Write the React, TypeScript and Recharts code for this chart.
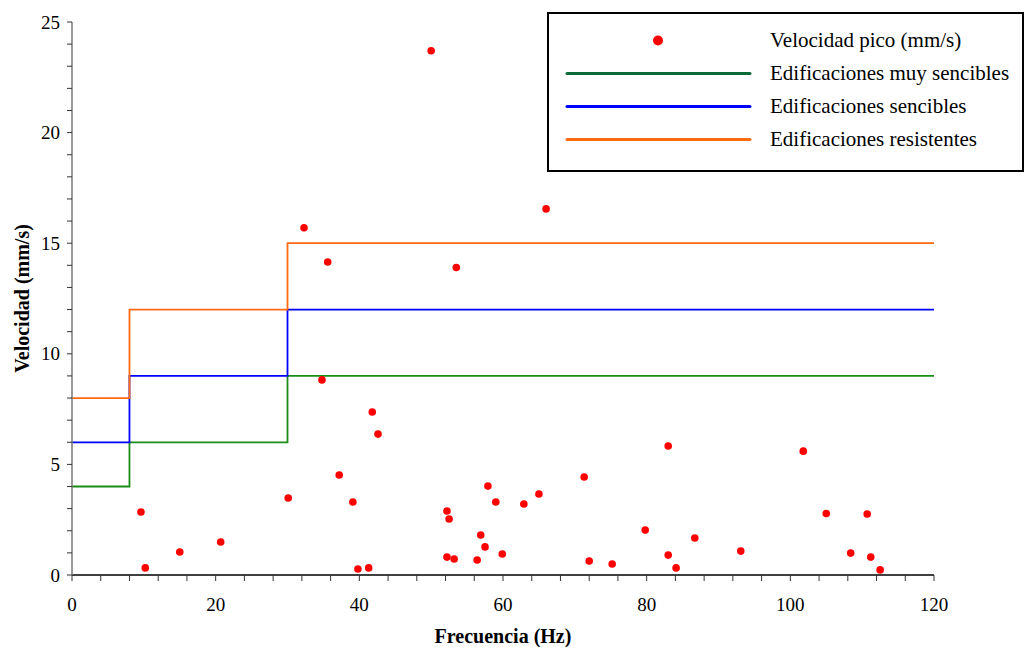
import { ComposedChart, Scatter, Line, XAxis, YAxis, Legend } from "recharts";

// peak velocity readings: frequency (Hz) and velocity (mm/s)
const FREQ = [
  9.6, 10.2, 15.0, 20.7, 30.1, 32.3, 35.6, 34.8, 37.2, 39.1, 39.8, 41.3, 41.8, 42.6,
  50.0, 52.2, 52.5, 52.2, 53.2, 53.5, 56.4, 56.9, 57.5, 57.9, 59.0, 59.9, 62.9, 65.0,
  66.0, 71.3, 72.0, 75.2, 79.8, 83.0, 83.0, 84.1, 86.7, 93.1, 101.8, 105.0, 108.4,
  110.7, 111.2, 112.5,
];
const VEL = [
  2.85, 0.32, 1.04, 1.49, 3.48, 15.7, 14.15, 8.82, 4.52, 3.3, 0.27, 0.32, 7.37, 6.37,
  23.7, 2.89, 2.53, 0.81, 0.72, 13.9, 0.68, 1.81, 1.27, 4.02, 3.3, 0.95, 3.21, 3.66,
  16.55, 4.43, 0.63, 0.5, 2.03, 5.83, 0.9, 0.32, 1.67, 1.08, 5.6, 2.78, 0.99,
  2.76, 0.81, 0.23,
];

// limit curves (step after each frequency break)
const STEP_X = [0, 8, 30, 120];
const MUY_SENCIBLES = [4, 6, 9, 9];
const SENCIBLES = [6, 9, 12, 12];
const RESISTENTES = [8, 12, 15, 15];

const Y_TICKS = Array.from({ length: 26 }, (_, i) => i);
const X_TICKS = Array.from({ length: 31 }, (_, i) => i * 4);

const FONT = "'Liberation Serif', 'Times New Roman', serif";

const LEGEND_ITEMS = [
  { label: "Velocidad pico (mm/s)", kind: "dot", color: "#ff0000" },
  { label: "Edificaciones muy sencibles", kind: "line", color: "#0b6b36" },
  { label: "Edificaciones sencibles", kind: "line", color: "#0000ff" },
  { label: "Edificaciones resistentes", kind: "line", color: "#ff6a13" },
];

const stepData = (vals: number[]) => STEP_X.map((x, i) => ({ x, y: vals[i] }));
const points = FREQ.map((x, i) => ({ x, y: VEL[i] }));

function YTick({ x, y, payload }: any) {
  if (payload.value % 5 !== 0) return <g />;
  return (
    <text x={x} y={y} dy="0.35em" textAnchor="end" fontSize={19} fontFamily={FONT} fill="#000">
      {payload.value}
    </text>
  );
}

function XTick({ x, y, payload }: any) {
  if (payload.value % 20 !== 0) return <g />;
  return (
    <text x={x} y={y} dy="0.71em" textAnchor="middle" fontSize={19} fontFamily={FONT} fill="#000">
      {payload.value}
    </text>
  );
}

function LegendBox() {
  return (
    <div
      style={{
        width: 477,
        height: 160,
        boxSizing: "border-box",
        border: "2px solid #000",
        background: "#fff",
        paddingTop: 9.5,
        fontFamily: FONT,
        fontSize: 21,
        color: "#000",
      }}
    >
      {LEGEND_ITEMS.map(item => (
        <div key={item.label} style={{ display: "flex", alignItems: "center", height: 33 }}>
          <svg width={221} height={33} style={{ flex: "none" }}>
            {item.kind === "dot" ? (
              <circle cx={109} cy={16.5} r={5} fill={item.color} />
            ) : (
              <line x1={18} x2={201} y1={16.5} y2={16.5} stroke={item.color} strokeWidth={3} strokeLinecap="round" />
            )}
          </svg>
          <span style={{ whiteSpace: "nowrap" }}>{item.label}</span>
        </div>
      ))}
    </div>
  );
}

export default function App() {
  return (
    <div style={{ position: "absolute", left: 0, top: 0, width: 1025, height: 647, background: "#fff" }}>
      <ComposedChart width={1025} height={647} margin={{ top: 22, right: 91, bottom: 0, left: 0 }}>
        <XAxis
          type="number"
          dataKey="x"
          domain={[0, 120]}
          ticks={X_TICKS}
          interval={0}
          height={72}
          tick={<XTick />}
          tickSize={6}
          tickMargin={17}
          axisLine={{ stroke: "#000", strokeWidth: 1.5 }}
          tickLine={{ stroke: "#333" }}
          label={{
            content: ({ viewBox }: any) => (
              <text
                x={viewBox.x + viewBox.width / 2}
                y={viewBox.y + 68}
                textAnchor="middle"
                fontSize={20}
                fontWeight="bold"
                fontFamily={FONT}
                fill="#000"
              >
                Frecuencia (Hz)
              </text>
            ),
          }}
        />
        <YAxis
          type="number"
          dataKey="y"
          domain={[0, 25]}
          ticks={Y_TICKS}
          interval={0}
          width={72}
          tick={<YTick />}
          tickSize={5}
          tickMargin={7}
          axisLine={{ stroke: "#777", strokeWidth: 1.5 }}
          tickLine={{ stroke: "#333" }}
          label={{
            content: ({ viewBox }: any) => {
              const cx = viewBox.x + 22;
              const cy = viewBox.y + viewBox.height / 2;
              return (
                <text
                  x={cx}
                  y={cy}
                  transform={`rotate(-90 ${cx} ${cy})`}
                  textAnchor="middle"
                  dominantBaseline="central"
                  fontSize={20}
                  fontWeight="bold"
                  fontFamily={FONT}
                  fill="#000"
                >
                  Velocidad (mm/s)
                </text>
              );
            },
          }}
        />
        <Legend
          layout="vertical"
          align="center"
          verticalAlign="middle"
          wrapperStyle={{ left: 547, top: 12, width: 477, height: 160 }}
          content={() => <LegendBox />}
        />
        <Line
          data={stepData(MUY_SENCIBLES)}
          dataKey="y"
          type="stepAfter"
          stroke="#1a8c1a"
          strokeWidth={1.8}
          dot={false}
          activeDot={false}
          isAnimationActive={false}
        />
        <Line
          data={stepData(SENCIBLES)}
          dataKey="y"
          type="stepAfter"
          stroke="#0000ff"
          strokeWidth={1.8}
          dot={false}
          activeDot={false}
          isAnimationActive={false}
        />
        <Line
          data={stepData(RESISTENTES)}
          dataKey="y"
          type="stepAfter"
          stroke="#ff6a13"
          strokeWidth={1.8}
          dot={false}
          activeDot={false}
          isAnimationActive={false}
        />
        <Scatter
          data={points}
          fill="#ff0000"
          shape={(p: any) => <circle cx={p.cx} cy={p.cy} r={3.8} fill="#ff0000" />}
          isAnimationActive={false}
        />
      </ComposedChart>
    </div>
  );
}
